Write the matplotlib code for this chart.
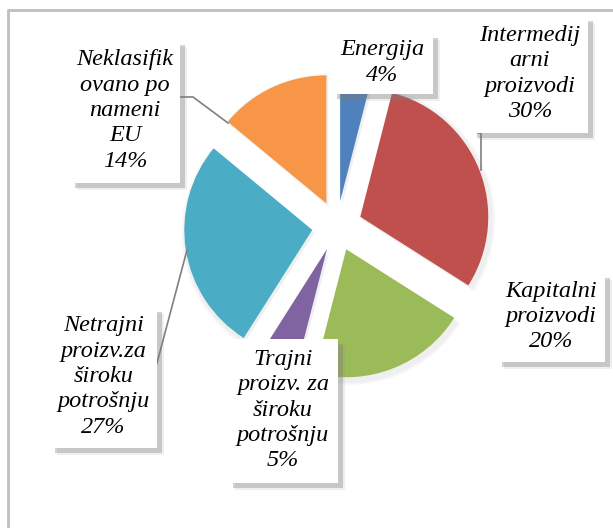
import matplotlib.pyplot as plt
from matplotlib.patches import Rectangle

# shares by purpose (EU classification), clockwise from the top
categories = ["Energija", "Intermedij\narni\nproizvodi", "Kapitalni\nproizvodi",
              "Trajni\nproizv. za\nširoku\npotrošnju",
              "Netrajni\nproizv.za\nširoku\npotrošnju",
              "Neklasifik\novano po\nnameni\nEU"]
shares = [4, 30, 20, 5, 27, 14]
colors = ["#4F81BD", "#C0504D", "#9BBB59", "#8064A2", "#4BACC6", "#F79646"]

W, H = 613, 528
fig = plt.figure(figsize=(W / 100, H / 100), dpi=100)
ax = fig.add_axes([0, 0, 1, 1])

cx, cy, R = 337, H - 226, 128

# soft shadow under the slices
for off, a in [(5, 0.05), (3, 0.07)]:
    ax.pie(shares, startangle=90, counterclock=False, radius=R + off,
           center=(cx + 2, cy - 3), explode=[25] * len(shares),
           colors=["#808080"] * len(shares),
           wedgeprops=dict(alpha=a, linewidth=0))

wedges, _ = ax.pie(shares, startangle=90, counterclock=False, radius=R,
                   center=(cx, cy), explode=[25] * len(shares), colors=colors,
                   wedgeprops=dict(linewidth=0))

# label boxes: (left, top, right, bottom) in image pixels
boxes = [(332, 33, 433, 94), (472, 16, 588, 133), (497, 273, 605, 362),
         (228, 339, 338, 483), (50, 307, 157, 448), (70, 40, 180, 183)]

for (l, t, r, b), name, val in zip(boxes, categories, shares):
    for d, a in [(7, 0.12), (5, 0.35)]:
        ax.add_patch(Rectangle((l + d, H - b - d), r - l, b - t, facecolor="#7f7f7f",
                               alpha=a, linewidth=0, zorder=4))
    ax.add_patch(Rectangle((l, H - b), r - l, b - t, facecolor="white",
                           linewidth=0, zorder=5))
    ax.text((l + r) / 2, H - (t + b) / 2 + 1, f"{name}\n{val}%", ha="center", va="center",
            family="Liberation Serif", style="italic", fontsize=17.5,
            linespacing=1.28, zorder=6)

# leader lines
leaders = [[(180, 97), (193, 97), (228, 123)],
           [(478, 133), (481, 133), (481, 170)],
           [(157, 363), (187, 250)]]
for pts in leaders:
    ax.plot([p[0] for p in pts], [H - p[1] for p in pts], color="#7f7f7f",
            linewidth=1.2, zorder=3)

# chart area border
ax.plot([8, 8, W], [0, H - 10, H - 10], color="#bfbfbf", linewidth=2, zorder=2)

ax.set_xlim(0, W)
ax.set_ylim(0, H)
ax.set_aspect("equal")
ax.axis("off")
fig.savefig("out.png", dpi=100)
